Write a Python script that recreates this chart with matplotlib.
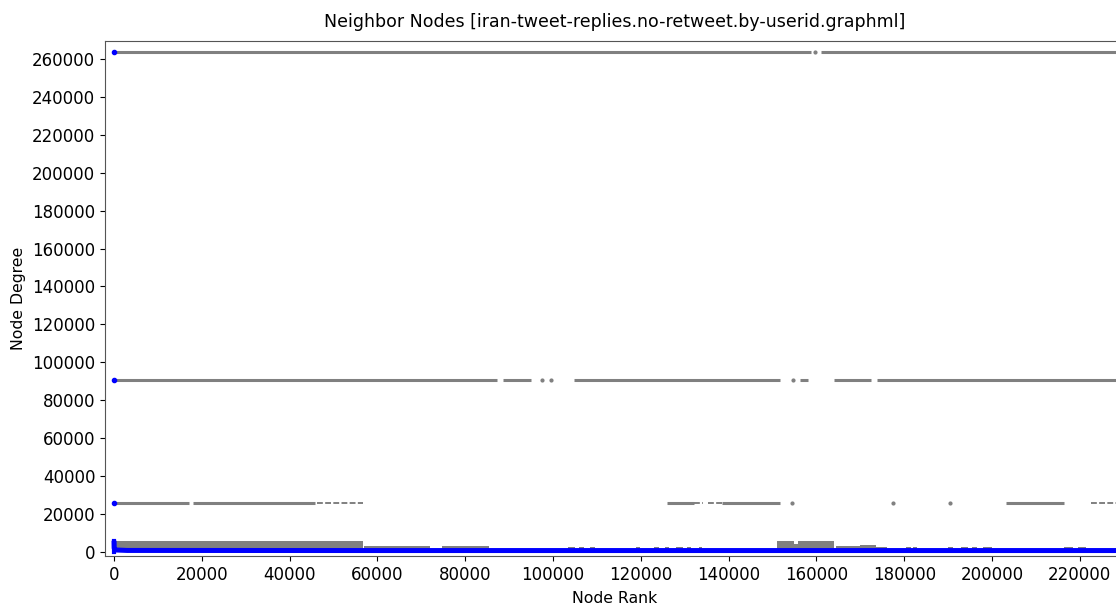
import matplotlib
matplotlib.use("Agg")
import matplotlib.pyplot as plt
import numpy as np

# ---- data ----
# ranks 0..2 are the three hubs (blue dots at x=0)
hub_ranks = [0, 1, 2]
hub_degrees = [263800, 90500, 25500]

# degree of each node by rank (blue line), sparse reading
rank_pts = [3, 40, 300, 3000, 60000, 120000, 180000, 231000]
degree_pts = [5800, 1800, 900, 650, 600, 600, 600, 600]

# neighbour-degree bands (gray): level, segment starts, segment ends
hub1_starts = [0, 161000]
hub1_ends = [158800, 231000]
hub1_dots = [159700]

hub2_starts = [0, 88600, 104800, 156200, 164000, 173800]
hub2_ends = [87200, 95000, 151800, 158000, 172500, 231000]
hub2_dots = [97600, 99600, 154700]

hub3_starts = [0, 18000, 126000, 138500, 203200]
hub3_ends = [17000, 45800, 132100, 151700, 216400]
hub3_dots = [154400, 177400, 190400]
hub3_sparse_starts = [46200, 132100, 135300, 222500]
hub3_sparse_ends = [56700, 134200, 138500, 231000]

# low-degree neighbour block (gray): start, end, top
low_starts = [0, 57000, 74700, 103500, 106000, 108500, 119000, 123000, 125500, 128000,
              130500, 133200, 151000, 155000, 155700, 164400, 170000, 173600,
              180500, 182000, 190000, 193000, 195500, 198000, 216500, 219500]
low_ends = [56700, 72000, 85500, 105000, 107000, 109500, 119800, 124200, 126500, 129500,
            131500, 133900, 155000, 155700, 164100, 170000, 173600, 176000,
            181500, 182800, 191200, 194500, 196500, 200000, 218500, 221500]
low_tops = [5800, 2800, 2800, 2600, 2600, 2600, 2500, 2600, 2600, 2600,
            2600, 2500, 5800, 4200, 5800, 2800, 3500, 2700,
            2500, 2500, 2500, 2500, 2500, 2500, 2700, 2600]

GRAY = "#808080"
BLUE = "#0000ff"

fig = plt.figure(figsize=(11.16, 6.04), dpi=100)
ax = fig.add_axes([0.0941, 0.0795, 0.914, 0.8526])

def hlines(level, starts, ends, lw, ls="-"):
    for s, e in zip(starts, ends):
        ax.plot([s, e], [level, level], color=GRAY, lw=lw, ls=ls,
                solid_capstyle="butt", zorder=2)

hlines(hub_degrees[0], hub1_starts, hub1_ends, 2.2)
hlines(hub_degrees[1], hub2_starts, hub2_ends, 2.2)
hlines(hub_degrees[2], hub3_starts, hub3_ends, 2.2)
hlines(hub_degrees[2], hub3_sparse_starts, hub3_sparse_ends, 1.4, ls=(0, (3, 1.2)))

ax.plot(hub1_dots, [hub_degrees[0]] * len(hub1_dots), "o", color=GRAY, ms=2, zorder=2)
ax.plot(hub2_dots, [hub_degrees[1]] * len(hub2_dots), "o", color=GRAY, ms=2, zorder=2)
ax.plot(hub3_dots, [hub_degrees[2]] * len(hub3_dots), "o", color=GRAY, ms=2, zorder=2)

for s, e, t in zip(low_starts, low_ends, low_tops):
    ax.fill_between([s, e], [0, 0], [t, t], color=GRAY, lw=0, zorder=2)

# node degree by rank
ax.plot(rank_pts, degree_pts, color=BLUE, lw=3.6, solid_capstyle="butt", zorder=3)
ax.plot([0, 0], [0, degree_pts[0]], color=BLUE, lw=3, zorder=3)
ax.plot(hub_ranks, hub_degrees, "o", color=BLUE, ms=3, zorder=4)

ax.set_xlim(-2050, 230300)
ax.set_ylim(-2270, 269500)
ax.set_xticks(np.arange(0, 220001, 20000))
ax.set_yticks(np.arange(0, 260001, 20000))
ax.tick_params(labelsize=12)
for sp in ax.spines.values():
    sp.set_color("#555555")

ax.set_title("Neighbor Nodes [iran-tweet-replies.no-retweet.by-userid.graphml]", fontsize=12.5, pad=10)
ax.set_xlabel("Node Rank", fontsize=11.3, labelpad=5)
ax.set_ylabel("Node Degree", fontsize=11.3)

fig.savefig("out.png", dpi=100)
